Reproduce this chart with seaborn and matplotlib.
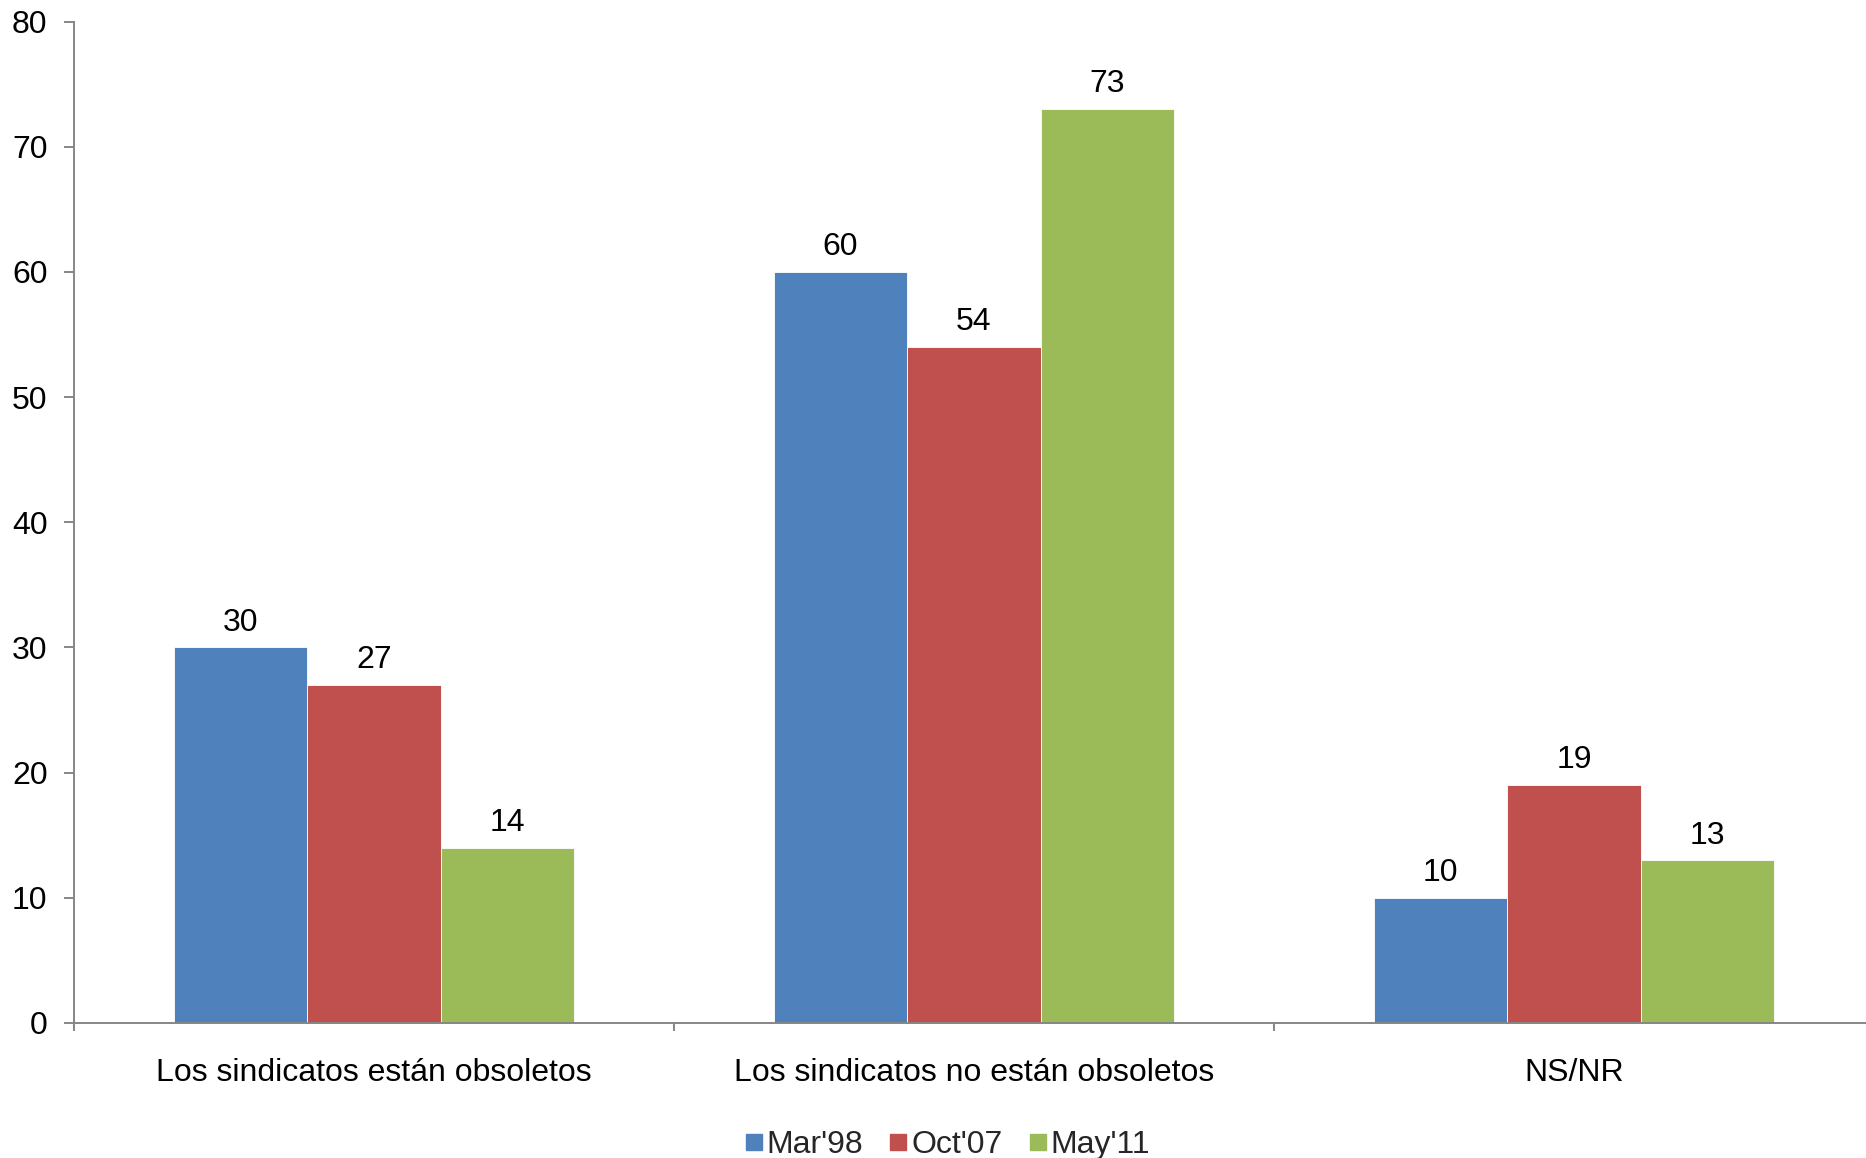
import pandas as pd
import seaborn as sns
import matplotlib.pyplot as plt
from matplotlib.lines import Line2D

# data
categories = ['Los sindicatos están obsoletos', 'Los sindicatos no están obsoletos', 'NS/NR']
series = ["Mar'98", "Oct'07", "May'11"]
mar98 = [30, 60, 10]
oct07 = [27, 54, 19]
may11 = [14, 73, 13]
colors = ['#4F81BD', '#C0504D', '#9BBB59']

df = pd.DataFrame({
    'categoria': categories * 3,
    'serie': [series[0]] * 3 + [series[1]] * 3 + [series[2]] * 3,
    'valor': mar98 + oct07 + may11,
})

sns.set_theme(style='white')
plt.rcParams['font.family'] = ['Liberation Sans', 'DejaVu Sans']

fs = 23
fig = plt.figure(figsize=(18.66, 11.58), dpi=100)
ax = fig.add_axes([74 / 1866, 0.1166, 1800 / 1866, 0.9814 - 0.1166])

sns.barplot(data=df, x='categoria', y='valor', hue='serie', palette=colors,
            width=0.667, saturation=1, ax=ax, legend=False,
            edgecolor='white', linewidth=0.6)

for c in ax.containers:
    ax.bar_label(c, fmt='%g', padding=7, fontsize=fs, color='black')

ax.set_xlim(-0.5, 2.5)
ax.set_ylim(0, 80)
ax.set_yticks(range(0, 81, 10))
ax.set_xlabel('')
ax.set_ylabel('')

grey = '#868686'
for s in ['top', 'right']:
    ax.spines[s].set_visible(False)
for s in ['left', 'bottom']:
    ax.spines[s].set_color(grey)
    ax.spines[s].set_linewidth(1.4)

ax.tick_params(axis='y', which='major', left=True, length=7, width=1.4, color=grey,
               labelsize=fs, pad=12, labelcolor='black')
ax.tick_params(axis='x', which='major', bottom=False, length=0, labelsize=fs, pad=25,
               labelcolor='black')
ax.set_xticks([-0.5, 0.5, 1.5, 2.5], minor=True)
ax.tick_params(axis='x', which='minor', bottom=True, length=6, width=1.4, color=grey)

handles = [Line2D([0], [0], marker='s', linestyle='', markersize=12,
                  markerfacecolor=col, markeredgecolor=col) for col in colors]
fig.legend(handles, series, loc='center', bbox_to_anchor=(0.508, 0.011), ncol=3,
           frameon=False, fontsize=fs, handlelength=0.5, handletextpad=0.15,
           columnspacing=0.85)

fig.savefig('out.png', dpi=100)
